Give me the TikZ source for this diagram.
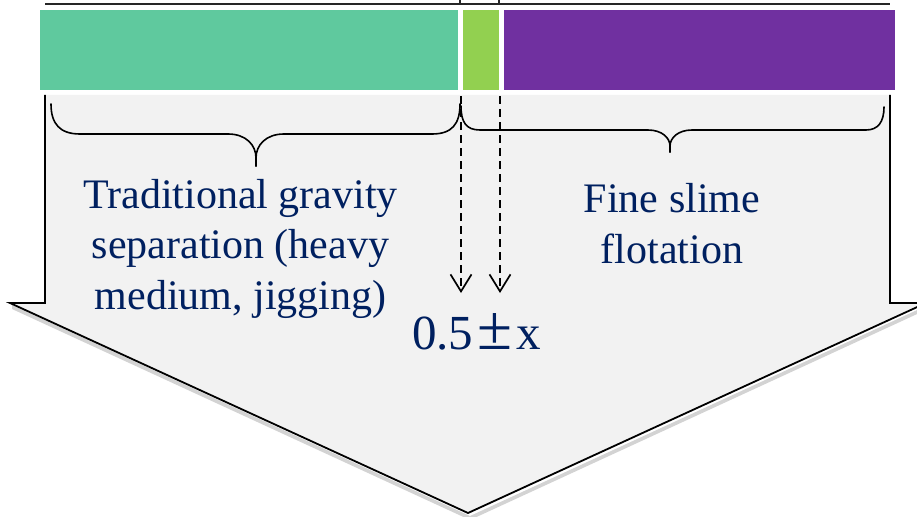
\documentclass[tikz,border=0pt]{standalone}
\usepackage{fontspec}
\usepackage{graphicx}
\setmainfont{Liberation Serif}
\usetikzlibrary{arrows.meta}
\definecolor{barteal}{HTML}{5FC99E}
\definecolor{barlime}{HTML}{92D050}
\definecolor{barpurple}{HTML}{7030A0}
\definecolor{arrowfill}{HTML}{F2F2F2}
\definecolor{txtnavy}{HTML}{002060}
\tikzset{
  bar/.style={draw=none, inner sep=0pt, minimum height=80pt, anchor=north west},
  lbl/.style={text=txtnavy, align=center, inner sep=0pt, anchor=base, font=\fontsize{42}{50.5}\selectfont},
  bracestyle/.style={line width=1.6pt, line cap=round},
  dasharrow/.style={line width=1.7pt, dash pattern=on 8pt off 5pt, -{Straight Barb[length=17pt,width=21pt,line width=1.7pt]}},
}
\begin{document}
\begin{tikzpicture}[x=1pt,y=-1pt]
\useasboundingbox (0,0) rectangle (917,516);
% big down arrow
\fill[gray, opacity=0.35] (12,305) -- (470,516) -- (928,305) -- (928,309) -- (470,520) -- (12,309) -- cycle;
\fill[arrowfill] (45,95) -- (45,303) -- (10,303) -- (468,513) -- (926,303) -- (890,303) -- (890,95) -- cycle;
\draw[line width=1.8pt, line join=miter] (45,95) -- (45,303) -- (10,303) -- (468,513) -- (926,303) -- (890,303) -- (890,95);
% top line
\draw[line width=1.5pt, color=black!85] (45,4) -- (890,4) (460,0) -- (460,4) (499,0) -- (499,4);
% bars
\node[bar, fill=barteal, minimum width=418pt] (b1) at (40,10) {};
\node[bar, fill=barlime, minimum width=36pt] (b2) at (463,10) {};
\node[bar, fill=barpurple, minimum width=391pt] (b3) at (504,10) {};
% braces
\draw[bracestyle] (51,104) .. controls (51,124) and (60,134) .. (80,134) -- (228,134)
  .. controls (246,134) and (256,145) .. (256,158) -- (256,166);
\draw[bracestyle] (256,166) -- (256,158) .. controls (256,145) and (266,134) .. (284,134) -- (432,134)
  .. controls (452,134) and (460,124) .. (460,104);
\draw[bracestyle] (461,106) .. controls (461,122) and (466,130) .. (480,130) -- (648,130)
  .. controls (662,130) and (670,138) .. (670,146) -- (670,152);
\draw[bracestyle] (670,152) -- (670,146) .. controls (670,138) and (678,130) .. (692,130) -- (866,130)
  .. controls (878,130) and (884,122) .. (884,107);
% dashed arrows
\coordinate (d1s) at (461,96);
\coordinate (d1e) at (461,293);
\coordinate (d2s) at (500,96);
\coordinate (d2e) at (500,293);
\draw[dasharrow] (d1s) -- (d1e);
\draw[dasharrow] (d2s) -- (d2e);
% labels (base = baseline of last line)
\node[lbl] (trad) at (240.5,309) {Traditional gravity\\separation (heavy\\medium, jigging)};
\node[lbl] (fine) at (672,263) {Fine slime\\flotation};
\node[lbl, font=\fontsize{49}{55}\selectfont] (val) at (476.5,349) {0.5\kern4pt\scalebox{1.3}{±}\kern4pt x};
\end{tikzpicture}
\end{document}
